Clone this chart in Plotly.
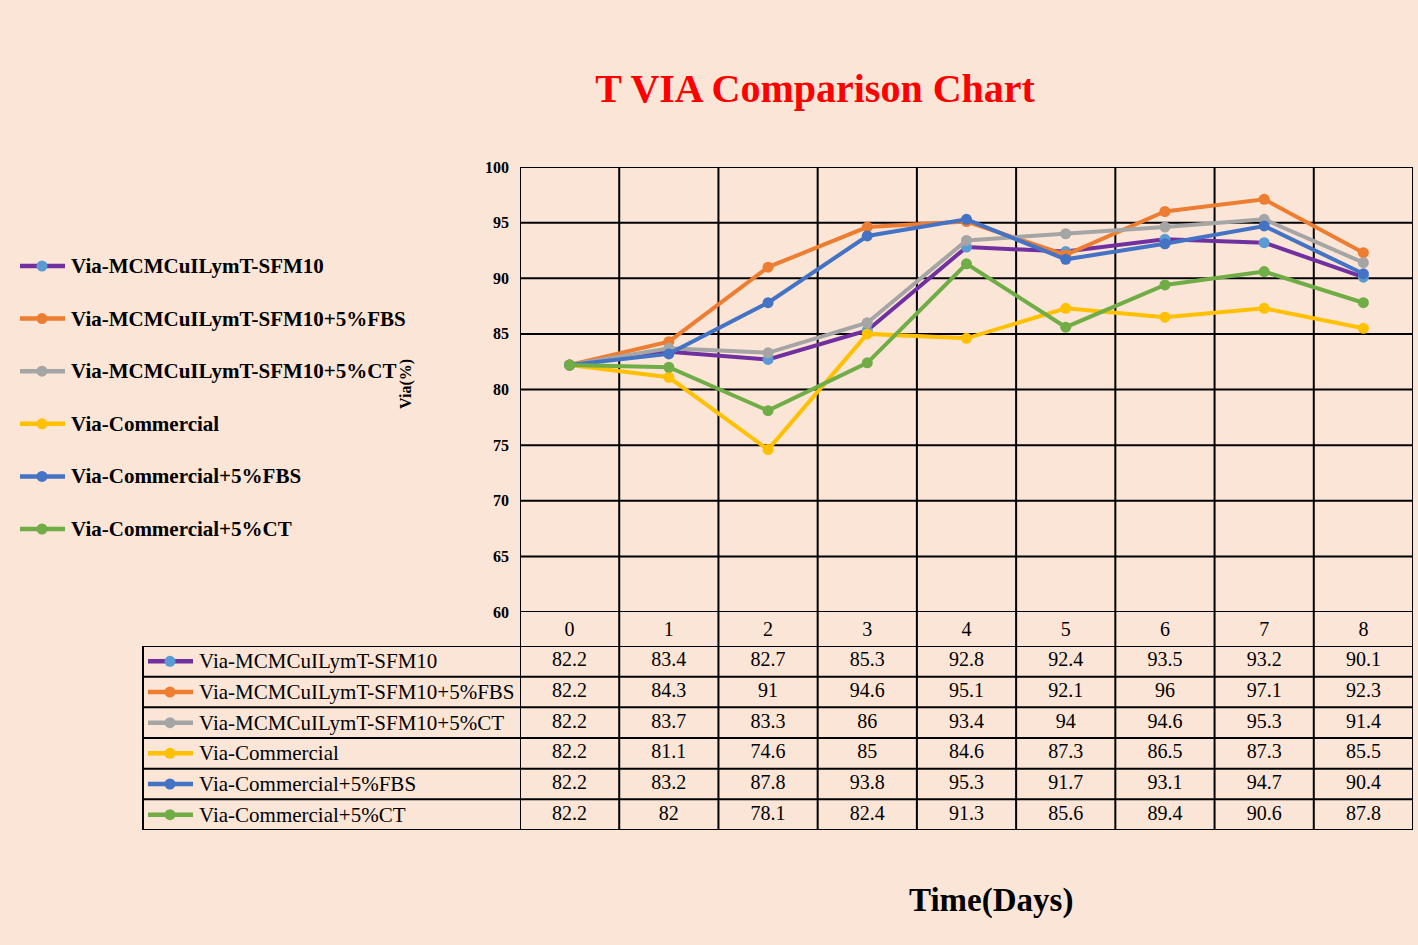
import plotly.graph_objects as go

W, H = 1418, 945

days = [0, 1, 2, 3, 4, 5, 6, 7, 8]
series_names = [
    "Via-MCMCuILymT-SFM10",
    "Via-MCMCuILymT-SFM10+5%FBS",
    "Via-MCMCuILymT-SFM10+5%CT",
    "Via-Commercial",
    "Via-Commercial+5%FBS",
    "Via-Commercial+5%CT",
]
via_sfm10 = [82.2, 83.4, 82.7, 85.3, 92.8, 92.4, 93.5, 93.2, 90.1]
via_sfm10_fbs = [82.2, 84.3, 91, 94.6, 95.1, 92.1, 96, 97.1, 92.3]
via_sfm10_ct = [82.2, 83.7, 83.3, 86, 93.4, 94, 94.6, 95.3, 91.4]
via_commercial = [82.2, 81.1, 74.6, 85, 84.6, 87.3, 86.5, 87.3, 85.5]
via_commercial_fbs = [82.2, 83.2, 87.8, 93.8, 95.3, 91.7, 93.1, 94.7, 90.4]
via_commercial_ct = [82.2, 82, 78.1, 82.4, 91.3, 85.6, 89.4, 90.6, 87.8]
y_ticks = [60, 65, 70, 75, 80, 85, 90, 95, 100]

all_values = [via_sfm10, via_sfm10_fbs, via_sfm10_ct,
              via_commercial, via_commercial_fbs, via_commercial_ct]
line_colors = ["#7030A0", "#ED7D31", "#A5A5A5", "#FFC000", "#4472C4", "#70AD47"]
marker_colors = ["#5B9BD5", "#ED7D31", "#A5A5A5", "#FFC000", "#4472C4", "#70AD47"]

BG = "#FBE5D6"
FONT = "Liberation Serif"

# layout geometry (pixels)
plot_left, plot_right, plot_top, plot_bottom = 520, 1413, 167, 612
table_top, table_bottom, table_left = 646, 830, 143

def px_x(p):
    return p / W

def px_y(p):
    return 1 - p / H

fig = go.Figure()

legend_y0, legend_step = 266, 52.6
row_h = (table_bottom - table_top) / len(series_names)
for i, (name, lc, mc) in enumerate(zip(series_names, line_colors, marker_colors)):
    ly = legend_y0 + legend_step * i
    fig.add_trace(go.Scatter(x=[20, 65], y=[ly, ly], mode="lines",
                             line=dict(color=lc, width=4.5), showlegend=False,
                             xaxis="x3", yaxis="y3", hoverinfo="skip"))
    fig.add_trace(go.Scatter(x=[42], y=[ly], mode="markers",
                             marker=dict(color=mc, size=11), showlegend=False,
                             xaxis="x3", yaxis="y3", hoverinfo="skip"))
    fig.add_annotation(x=69, y=ly, xref="x3", yref="y3", text=name,
                       showarrow=False, xanchor="left", yanchor="middle",
                       font=dict(family=FONT, size=21, color="black", weight="bold"))
    ty = table_top + row_h * (i + 0.5)
    fig.add_trace(go.Scatter(x=[148, 193], y=[ty, ty], mode="lines",
                             line=dict(color=lc, width=4.5), showlegend=False,
                             xaxis="x3", yaxis="y3", hoverinfo="skip"))
    fig.add_trace(go.Scatter(x=[170], y=[ty], mode="markers",
                             marker=dict(color=mc, size=11), showlegend=False,
                             xaxis="x3", yaxis="y3", hoverinfo="skip"))
    fig.add_annotation(x=197, y=ty, xref="x3", yref="y3", text=name,
                       showarrow=False, xanchor="left", yanchor="middle",
                       font=dict(family=FONT, size=21, color="black"))

for i, vals in enumerate(all_values):
    fig.add_trace(go.Scatter(
        x=days, y=[i + 0.5] * len(days), mode="text",
        text=[f"{v:g}" for v in vals],
        textfont=dict(family=FONT, size=20, color="black"),
        showlegend=False, xaxis="x2", yaxis="y2", hoverinfo="skip",
    ))

for name, vals, lc, mc in zip(series_names, all_values, line_colors, marker_colors):
    fig.add_trace(go.Scatter(
        x=days, y=vals, name=name, mode="lines+markers",
        line=dict(color=lc, width=4),
        marker=dict(color=mc, size=11),
        showlegend=False, xaxis="x", yaxis="y",
    ))

shapes = []
line_style = dict(color="black", width=2)
for t in y_ticks:
    shapes.append(dict(type="line", xref="x", yref="y", x0=-0.5, x1=len(days) - 0.5,
                       y0=t, y1=t, line=line_style, layer="below"))
for k in range(len(days) + 1):
    shapes.append(dict(type="line", xref="x", yref="paper", x0=k - 0.5, x1=k - 0.5,
                       y0=px_y(table_bottom), y1=px_y(plot_top), line=line_style,
                       layer="below"))
for r in range(len(series_names) + 1):
    shapes.append(dict(type="line", xref="paper", yref="y2", x0=px_x(table_left),
                       x1=px_x(plot_right), y0=r, y1=r, line=line_style, layer="below"))
shapes.append(dict(type="line", xref="paper", yref="y2", x0=px_x(table_left),
                   x1=px_x(table_left), y0=0, y1=len(series_names), line=line_style,
                   layer="below"))

fig.update_layout(
    width=W, height=H,
    paper_bgcolor=BG, plot_bgcolor="rgba(0,0,0,0)",
    margin=dict(l=0, r=0, t=0, b=0, pad=0, autoexpand=False),
    showlegend=False,
    hovermode=False,
    title=dict(text="T VIA Comparison Chart", x=815 / W, y=px_y(88),
               xanchor="center", yanchor="middle",
               font=dict(family=FONT, size=40, color="#FF0000", weight="bold")),
    xaxis=dict(domain=[px_x(plot_left), px_x(plot_right)], range=[-0.5, len(days) - 0.5],
               tickvals=days, ticktext=[str(d) for d in days], ticks="",
               showgrid=False, zeroline=False, showline=False, automargin=False,
               ticklabelstandoff=3,
               tickfont=dict(family=FONT, size=20, color="black"), anchor="y"),
    yaxis=dict(domain=[px_y(plot_bottom), px_y(plot_top)], range=[60, 100],
               tickvals=y_ticks, ticks="", showgrid=False, zeroline=False,
               showline=False, ticklabelstandoff=10, automargin=False,
               tickfont=dict(family=FONT, size=16, color="black", weight="bold"),
               anchor="x"),
    xaxis2=dict(domain=[px_x(plot_left), px_x(plot_right)], range=[-0.5, len(days) - 0.5],
                visible=False, anchor="y2", automargin=False),
    yaxis2=dict(domain=[px_y(table_bottom), px_y(table_top)],
                range=[len(series_names), 0], visible=False, anchor="x2", automargin=False),
    xaxis3=dict(domain=[0, 1], range=[0, W], visible=False, anchor="y3", automargin=False),
    yaxis3=dict(domain=[0, 1], range=[H, 0], visible=False, anchor="x3", automargin=False),
    shapes=shapes,
)

fig.add_annotation(x=406 / W, y=px_y(384), xref="paper", yref="paper", text="Via(%)",
                   textangle=-90, showarrow=False, xanchor="center", yanchor="middle",
                   font=dict(family=FONT, size=16, color="black", weight="bold"))
fig.add_annotation(x=991 / W, y=px_y(900), xref="paper", yref="paper", text="Time(Days)",
                   showarrow=False, xanchor="center", yanchor="middle",
                   font=dict(family=FONT, size=33, color="black", weight="bold"))

fig.write_html("out.html", config={"displayModeBar": False},
               post_script="document.body.style.margin='0';document.body.style.overflow='hidden';")
